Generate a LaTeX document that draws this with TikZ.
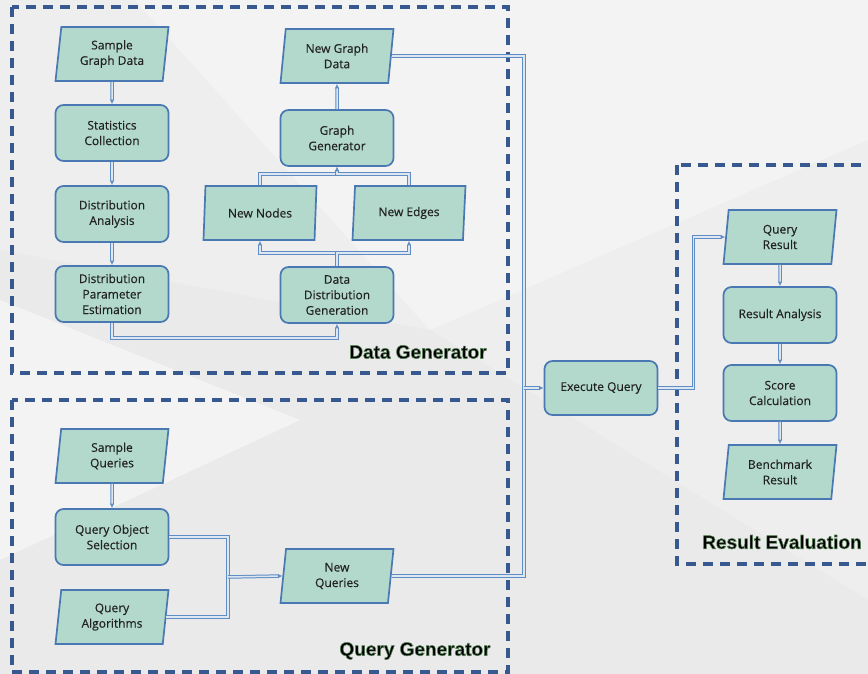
\documentclass[tikz,border=0pt]{standalone}
\usepackage{fontspec}
\setmainfont{Open Sans}
\newfontfamily\boxfont{Open Sans}[FakeBold=0.35]
\newfontfamily\titlefont{Liberation Sans}
\usetikzlibrary{shapes.geometric,arrows.meta,calc}

\definecolor{bgcol}{HTML}{EEEEEE}
\definecolor{bglight}{HTML}{F3F3F3}
\definecolor{bgdark}{HTML}{EAEAEA}
\definecolor{boxfill}{HTML}{B3D9CC}
\definecolor{boxline}{HTML}{4A78B2}
\definecolor{connout}{HTML}{5F8CC4}
\definecolor{connin}{HTML}{DCE7F2}
\definecolor{groupline}{HTML}{37598F}
\definecolor{txt}{HTML}{222222}

% bold title with a thin green edge stroked around the glyphs
\newcommand{\halotext}[1]{%
  \special{pdf:literal direct 2 Tr 0.36 0.52 0.36 RG 0.6 w}#1\special{pdf:literal direct 0 Tr}}

\begin{document}
\begin{tikzpicture}[x=1pt,y=-1pt,
  every node/.style={font=\boxfont\fontsize{12}{15.5}\selectfont, text=txt, align=center, inner sep=0pt},
  proc/.style={draw=boxline, line width=1.7pt, fill=boxfill, rounded corners=8pt,
    minimum width=113pt, minimum height=56pt},
  data/.style={draw=boxline, line width=1.7pt, fill=boxfill, trapezium,
    trapezium left angle=78, trapezium right angle=102, trapezium stretches body,
    minimum width=113pt, minimum height=54pt},
  link/.style={draw=connout, line width=1pt, double=connin, double distance=1.5pt},
  conn/.style={link, -{Latex[length=4.5pt,width=4.5pt]}},
  group/.style={draw=groupline, line width=3.2pt, dash pattern=on 10pt off 7pt},
  title/.style={font=\titlefont\bfseries\fontsize{19}{22}\selectfont, text=black}
]
% canvas and soft background facets
\useasboundingbox (0,0) rectangle (868,674);
\fill[bgcol] (0,0) rectangle (868,674);
\fill[bglight] (135,0) -- (868,0) -- (868,140) -- (430,330) -- cycle;
\fill[bgdark] (0,250) -- (430,330) -- (868,600) -- (868,674) -- (0,674) -- cycle;
\fill[bglight] (0,300) -- (300,420) -- (0,560) -- cycle;

% group frames
\draw[group] (12,7) rectangle (508,373);
\draw[group] (12,400) rectangle (508,672);
\draw[group] (677,165) rectangle (880,564);

% Data Generator
\node[data] (sgd) at (112,54) {Sample\\Graph Data};
\node[proc] (sc)  at (112,133) {Statistics\\Collection};
\node[proc] (da)  at (112,214) {Distribution\\Analysis};
\node[proc] (dpe) at (112,294) {Distribution\\Parameter\\Estimation};
\node[data] (ngd) at (337,56) {New Graph\\Data};
\node[proc] (gg)  at (337,138) {Graph\\Generator};
\node[data] (nn)  at (260,213) {New Nodes};
\node[data] (ne)  at (409,213) {New Edges};
\node[proc] (ddg) at (337,295) {Data\\Distribution\\Generation};

% Query Generator
\node[data] (sq)  at (112,456) {Sample\\Queries};
\node[proc] (qos) at (112,537) {Query Object\\Selection};
\node[data] (qa)  at (112,617) {Query\\Algorithms};
\node[data] (nq)  at (337,576) {New\\Queries};

% Execution and evaluation
\node[proc, minimum height=54pt] (eq) at (601,388) {Execute Query};
\node[data] (qr)  at (780,237) {Query\\Result};
\node[proc] (ra)  at (780,315) {Result Analysis};
\node[proc] (scl) at (780,393) {Score\\Calculation};
\node[data] (br)  at (780,472) {Benchmark\\Result};

% junction points
\coordinate (jexec) at (524,388);
\coordinate (jquery) at (228,577);

% data generator flow
\draw[conn] (sgd.south) -- (sc.north);
\draw[conn] (sc.south) -- (da.north);
\draw[conn] (da.south) -- (dpe.north);
\draw[conn] (dpe.south) -- ++(0,15) -| (ddg.south);
\draw[conn] (ddg.north) -- ++(0,-13) -| (nn.south);
\draw[conn] (ddg.north) -- ++(0,-13) -| (ne.south);
\draw[conn] (nn.north) -- ++(0,-11) -| (gg.south);
\draw[conn] (ne.north) -- ++(0,-11) -| (gg.south);
\draw[conn] (gg.north) -- (ngd.south);

% query generator flow
\draw[conn] (sq.south) -- (qos.north);
\draw[link] (qos.east) -| (jquery);
\draw[link] (qa.east) -| (jquery);
\draw[conn] (jquery) -- (nq.west);

% into execution
\draw[link] (ngd.east) -| (jexec);
\draw[link] (nq.east) -| (jexec);
\draw[conn] (jexec) -- (eq.west);
\draw[conn] (eq.east) -- ++(35,0) |- (qr.west);

% evaluation flow
\draw[conn] (qr.south) -- (ra.north);
\draw[conn] (ra.south) -- (scl.north);
\draw[conn] (scl.south) -- (br.north);

% group titles
\node[title] (dgt) at (418,352) {\halotext{Data Generator}};
\node[title] (qgt) at (415,651) {\halotext{Query Generator}};
\node[title] (ret) at (782,542) {\halotext{Result Evaluation}};
\end{tikzpicture}
\end{document}
